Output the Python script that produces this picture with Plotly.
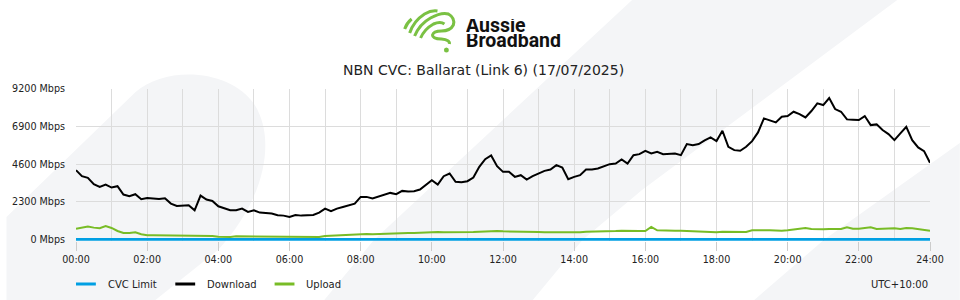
import plotly.graph_objects as go

# ---------------- data (10-minute samples, 00:00 .. 24:00) ----------------
hours = [i / 6 for i in range(145)]

download = [
    4233, 3865, 3763, 3375, 3211, 3354, 3170, 3252, 2741, 2639, 2762, 2455,
    2537, 2516, 2475, 2516, 2189, 2046, 2046, 2087, 1780, 2680, 2434, 2353,
    2025, 1883, 1780, 1780, 1883, 1678, 1780, 1637, 1617, 1576, 1474, 1453,
    1372, 1494, 1453, 1474, 1494, 1637, 1883, 1719, 1883, 1985, 2087, 2189,
    2598, 2598, 2496, 2598, 2741, 2843, 2762, 2966, 2925, 2946, 3048, 3313,
    3620, 3354, 3865, 4029, 3518, 3497, 3559, 3784, 4438, 4908, 5133, 4479,
    4131, 4131, 3824, 3927, 3661, 3865, 4029, 4192, 4274, 4540, 4397, 3681,
    3824, 3927, 4274, 4274, 4335, 4479, 4601, 4642, 4887, 4642, 5153, 5214,
    5419, 5255, 5357, 5214, 5255, 5255, 5153, 5828, 5766, 5828, 6052, 6236,
    6011, 6645, 5664, 5460, 5419, 5664, 6011, 6543, 7401, 7299, 7156, 7504,
    7545, 7810, 7667, 7463, 7851, 8321, 8219, 8650, 7974, 7810, 7340, 7320,
    7299, 7545, 6993, 7034, 6686, 6441, 6073, 6481, 6890, 6073, 5623, 5398,
    4683,
]

upload = [
    656, 718, 779, 718, 677, 820, 697, 513, 390, 390, 431, 309,
    247, 247, 247, 247, 247, 247, 247, 227, 206, 206, 206, 206,
    166, 145, 145, 186, 186, 145, 186, 186, 186, 186, 186, 186,
    186, 186, 186, 145, 166, 145, 206, 227, 227, 227, 288, 288,
    309, 329, 309, 329, 350, 350, 350, 411, 390, 390, 411, 411,
    431, 452, 431, 431, 452, 431, 411, 452, 472, 493, 513, 513,
    493, 493, 472, 493, 493, 472, 452, 431, 431, 411, 411, 411,
    411, 431, 472, 472, 472, 513, 513, 513, 534, 513, 513, 513,
    513, 758, 554, 534, 534, 534, 534, 513, 493, 472, 452, 452,
    431, 472, 472, 452, 472, 452, 554, 574, 554, 554, 534, 534,
    554, 595, 636, 697, 636, 615, 615, 636, 636, 636, 738, 656,
    656, 718, 738, 636, 656, 636, 677, 636, 697, 677, 636, 554,
    534,
]

cvc_hours = [0, 24]
cvc_limit = [0, 0]

y_ticks = [0, 2300, 4600, 6900, 9200]
y_tick_labels = ["0 Mbps", "2300 Mbps", "4600 Mbps", "6900 Mbps", "9200 Mbps"]
x_ticks = [0, 2, 4, 6, 8, 10, 12, 14, 16, 18, 20, 22, 24]
x_tick_labels = ["00:00", "02:00", "04:00", "06:00", "08:00", "10:00", "12:00",
                 "14:00", "16:00", "18:00", "20:00", "22:00", "24:00"]

title_text = "NBN CVC: Ballarat (Link 6) (17/07/2025)"
series_names = ["CVC Limit", "Download", "Upload"]
colors = {"CVC Limit": "#009fe3", "Download": "#000000", "Upload": "#78bc26"}

# ---------------- layout helpers (pixel -> paper) ----------------
L, T, W, H = 70, 89, 860, 152
FONT = "DejaVu Sans"
TXT = "#222222"
BG_SHAPE = "#f4f5f7"
LOGO_GREEN = "#7ac143"


def px(x, y):
    return (x - L) / W, (T + H - y) / H


def path(spec):
    out = []
    for tok in spec.split():
        if "," in tok:
            a, b = tok.split(",")
            xp, yp = px(float(a), float(b))
            out.append(f"{xp:.5f},{yp:.5f}")
        else:
            out.append(tok)
    return " ".join(out)


fig = go.Figure()
fig.add_trace(go.Scatter(x=cvc_hours, y=cvc_limit, mode="lines", name=series_names[0],
                         line=dict(color=colors["CVC Limit"], width=2.6)))
fig.add_trace(go.Scatter(x=hours, y=upload, mode="lines", name=series_names[2],
                         line=dict(color=colors["Upload"], width=2)))
fig.add_trace(go.Scatter(x=hours, y=download, mode="lines", name=series_names[1],
                         line=dict(color=colors["Download"], width=2)))

shapes = []
# background decorative shapes
for spec in [
    "M 0,217 L 130,92 C 160,66 225,68 250,105 C 272,140 260,200 213,250 L 150,300 L 0,300 Z",
    "M 320,300 L 370,240 L 630,0 L 897,0 L 640,190 L 580,240 L 530,300 Z",
    "M 753,300 L 823,240 L 960,143 L 960,300 Z",
]:
    shapes.append(dict(type="path", path=path(spec), xref="paper", yref="paper",
                       fillcolor=BG_SHAPE, line=dict(width=0), layer="below"))

# logo squiggle
for spec in [
    "M 401,29 Q 403,23 408,19",
    "M 406,33 Q 410,21 421,14 Q 428,10 434,11",
    "M 411,36 Q 416,24 427,18 Q 438,12 445,14 Q 452,18 450,25 Q 447,31 438,31 "
    "Q 430,31 429,35 Q 429,39 438,39 Q 447,40 446,44",
    "M 417,38 Q 421,29 430,24 Q 437,21 441,24",
]:
    shapes.append(dict(type="path", path=path(spec), xref="paper", yref="paper",
                       line=dict(color=LOGO_GREEN, width=3), layer="above"))
cx0, cy0 = px(440.5, 47.5)
cx1, cy1 = px(445.5, 52.5)
shapes.append(dict(type="circle", xref="paper", yref="paper", x0=cx0, y0=cy1, x1=cx1, y1=cy0,
                   fillcolor=LOGO_GREEN, line=dict(width=0)))

# manual legend samples
for name, x_start in zip(series_names, [70, 170, 270]):
    x0, y0 = px(x_start, 284)
    x1, _ = px(x_start + 20, 284)
    shapes.append(dict(type="line", xref="paper", yref="paper", x0=x0, x1=x1, y0=y0, y1=y0,
                       line=dict(color=colors[name], width=3)))

annotations = []


def ann(text, x, y, size, xanchor="center", bold=False, family=FONT, color=TXT, height=None):
    xp, yp = px(x, y)
    a = dict(text=f"<b>{text}</b>" if bold else text, x=xp, y=yp,
             xref="paper", yref="paper", xanchor=xanchor, yanchor="middle",
             showarrow=False, font=dict(family=family, size=size, color=color))
    if height:
        a["height"] = height
        a["valign"] = "middle"
    annotations.append(a)


ann("Aussie", 461, 25, 19.5, xanchor="left", bold=True, family="Roboto", color="#111111", height=13)
ann("Broadband", 461, 40.5, 19.5, xanchor="left", bold=True, family="Roboto", color="#111111", height=13)
ann(title_text, 480, 70, 14)
for name, x_start in zip(series_names, [100, 200, 300]):
    ann(name, x_start, 284, 10, xanchor="left")
ann("UTC+10:00", 930, 284, 10, xanchor="right")

grid = "#dcdcdc"
fig.update_layout(
    width=960, height=300,
    margin=dict(l=L, r=960 - L - W, t=T, b=300 - T - H),
    paper_bgcolor="#ffffff", plot_bgcolor="rgba(0,0,0,0)",
    showlegend=False,
    shapes=shapes, annotations=annotations,
    font=dict(family=FONT, size=10, color=TXT),
    xaxis=dict(range=[0, 24], tickvals=x_ticks, ticktext=x_tick_labels,
               showgrid=True, gridcolor=grid, gridwidth=1,
               zeroline=False, showline=False,
               ticks="outside", ticklen=9, tickcolor="#cccccc", tickwidth=1,
               tickfont=dict(family=FONT, size=9.6, color=TXT),
               minor=dict(dtick=1, tick0=0, showgrid=True, gridcolor=grid, gridwidth=1, ticks="")),
    yaxis=dict(range=[-100, 9200], tickvals=y_ticks, ticktext=y_tick_labels,
               showgrid=True, gridcolor=grid, gridwidth=1,
               zeroline=False, showline=False, ticks="",
               ticklabelstandoff=10,
               tickfont=dict(family=FONT, size=9.6, color=TXT)),
)

fig.write_html("out.html")
